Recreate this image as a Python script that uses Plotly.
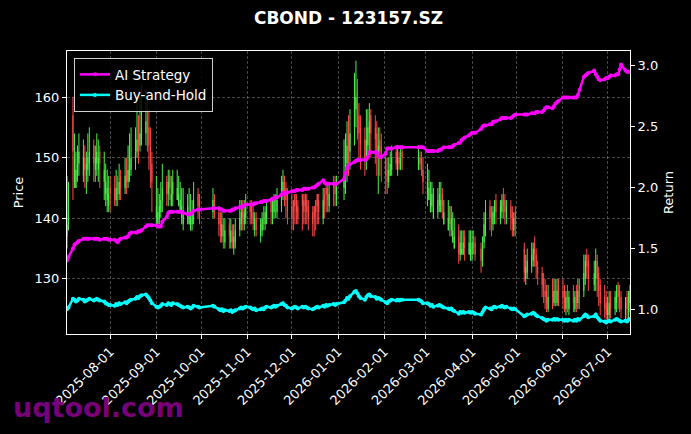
import pandas as pd
import plotly.graph_objects as go

# ---- trading calendar (China exchange holidays removed) ----
holidays = ["2025-10-01", "2025-10-02", "2025-10-03", "2025-10-06", "2025-10-07", "2025-10-08",
            "2026-01-01", "2026-01-02",
            "2026-02-16", "2026-02-17", "2026-02-18", "2026-02-19", "2026-02-20", "2026-02-23",
            "2026-04-06", "2026-05-01", "2026-05-04", "2026-05-05", "2026-06-19"]
dates = [d for d in pd.bdate_range("2025-07-03", "2026-07-16") if d.strftime("%Y-%m-%d") not in holidays]

# ---- price data ----
close = [
    139, 141, 151, 150, 148, 149, 151, 150, 148, 149, 150, 151, 149, 150, 151, 150, 149, 148, 146, 145, 144,
    144, 143, 145, 144, 146, 145, 147, 146, 148, 149, 150, 151, 153, 152, 154, 155, 156, 154, 152, 149, 146,
    142, 141, 142, 143, 145, 144, 146, 145, 144, 146, 145, 144, 143, 142, 141, 142, 141, 140, 141, 143, 142, 141,
    143, 142, 139, 138, 139, 137, 138, 137, 138, 136, 137, 138, 140, 141, 140, 141, 142,
    141, 140, 139, 140, 138, 139, 140, 139, 141, 142, 141, 142, 143, 142, 143, 145, 146, 144, 143, 141,
    140, 141, 142, 141, 140, 142, 141, 142, 141, 140, 139, 140, 141, 142, 141, 143, 142, 144, 143, 144, 145, 144, 145,
    147, 149, 152, 151, 154, 159, 160, 157, 154, 152, 150, 153, 155, 156, 154, 153, 151, 152, 151, 150,
    147, 146, 148, 149, 150, 149, 150, 149, 150, 150, 150, 149, 148, 146,
    146, 145, 143, 144, 142, 143, 144, 143, 142, 141, 140, 139, 140, 138, 137, 134, 136, 135, 136, 135, 136, 135,
    136, 135, 134, 133, 136, 139, 141, 140, 139, 141, 142, 141, 142, 143, 142, 141, 142, 140, 139, 140, 139,
    131, 132, 133, 134, 135, 134, 132, 131, 129, 128, 127, 126, 127, 127, 128, 127, 128, 127,
    127, 126, 127, 126, 127, 126, 127, 126, 128, 127, 131, 133, 132, 130, 131, 133, 130, 128, 126, 125, 124,
    125, 126, 125, 127, 128, 127, 126, 125, 126, 125, 127, 128,
]
open_ = [
    137, 139, 157, 146, 145, 147, 149, 147, 150, 147, 148, 149, 152, 148, 149, 148, 151, 146, 144, 143, 142,
    145, 145, 143, 146, 144, 147, 145, 148, 146, 147, 148, 149, 151, 154, 152, 153, 154, 157, 155, 152, 149,
    140, 139, 140, 141, 143, 146, 144, 147, 142, 144, 143, 142, 141, 140, 139, 140, 139, 138, 139, 141, 144, 143,
    141, 143, 141, 140, 137, 139, 136, 139, 136, 138, 135, 136, 138, 139, 142, 139, 140,
    142, 142, 141, 138, 140, 137, 138, 141, 139, 140, 143, 140, 141, 144, 141, 142, 144, 147, 145, 144,
    142, 143, 144, 143, 142, 144, 143, 144, 143, 142, 141, 142, 143, 144, 143, 140, 144, 145, 145, 142, 146, 146, 143,
    145, 147, 149, 154, 151, 155, 158, 161, 157, 155, 153, 150, 152, 154, 157, 155, 154, 150, 153, 152,
    150, 148, 146, 147, 148, 151, 148, 150, 148, 151, 148, 150, 150, 148,
    144, 143, 141, 142, 140, 141, 142, 141, 144, 139, 138, 142, 138, 136, 135, 137, 134, 134, 134, 137, 134, 133,
    134, 137, 136, 135, 133, 136, 139, 142, 141, 139, 140, 143, 140, 141, 144, 143, 140, 142, 141, 138, 141,
    135, 130, 131, 132, 133, 136, 134, 132, 131, 130, 128, 128, 125, 128, 126, 129, 126, 129,
    128, 128, 125, 128, 125, 128, 125, 128, 126, 129, 128, 130, 134, 133, 129, 130, 133, 131, 129, 127, 126,
    124, 124, 127, 125, 126, 129, 128, 127, 124, 127, 124, 126,
]
high = [
    147, 146, 160, 154, 151, 152, 154, 153, 152, 151, 154, 155, 153, 152, 154, 153, 152, 151, 149, 148, 147,
    147, 147, 148, 147, 149, 148, 150, 150, 152, 154, 155, 155, 159, 157, 161, 162, 161, 160, 158, 155, 151,
    147, 145, 144, 146, 149, 147, 148, 148, 147, 148, 148, 147, 146, 145, 145, 144, 145, 144, 143, 146, 145, 144,
    145, 144, 142, 141, 141, 140, 140, 140, 140, 139, 139, 140, 143, 143, 143, 143, 144,
    143, 143, 142, 141, 141, 140, 141, 142, 142, 143, 143, 143, 144, 144, 145, 147, 148, 147, 146, 145,
    144, 143, 144, 144, 143, 144, 144, 144, 144, 143, 142, 142, 143, 144, 144, 145, 145, 146, 146, 146, 147, 147, 147,
    153, 154, 156, 157, 158, 164, 166, 163, 159, 157, 155, 158, 158, 159, 158, 157, 156, 155, 155, 154,
    151, 150, 150, 151, 152, 152, 152, 151, 152, 152, 152, 151, 151, 150,
    149, 148, 146, 146, 145, 145, 146, 146, 145, 143, 143, 142, 142, 141, 140, 139, 138, 138, 138, 138, 138, 138,
    138, 138, 137, 136, 137, 141, 143, 143, 142, 142, 143, 144, 143, 144, 145, 144, 143, 143, 142, 141, 142,
    136, 134, 135, 136, 136, 137, 135, 133, 132, 131, 130, 129, 129, 130, 130, 130, 130, 130,
    130, 129, 128, 129, 128, 129, 128, 129, 130, 130, 134, 134, 135, 134, 133, 135, 134, 132, 130, 129, 128,
    127, 128, 128, 128, 129, 129.5, 129, 128, 127, 128, 128, 129,
]
low = [
    135, 138, 143, 145, 145, 146, 147, 146, 145, 144, 146, 147, 146, 146, 147, 146, 145, 143, 142, 141, 141,
    141, 142, 142, 142, 143, 143, 144, 144, 145, 146, 147, 148, 150, 149, 151, 152, 152, 151, 148, 145, 141,
    139, 139, 139, 140, 141, 142, 142, 143, 142, 142, 143, 142, 141, 139, 138, 139, 139, 138, 138, 139, 140, 139,
    140, 140, 137, 136, 136, 135, 135, 135, 135, 135, 134, 135, 137, 138, 138, 138, 139,
    139, 139, 138, 137, 137, 136, 137, 138, 138, 139, 139, 139, 140, 140, 140, 141, 143, 142, 140, 139,
    138, 138, 139, 139, 139, 138, 139, 139, 139, 138, 137, 137, 138, 139, 139, 139, 140, 141, 141, 141, 142, 142, 142,
    143, 144, 146, 147, 148, 152, 155, 153, 150, 148, 147, 148, 150, 151, 150, 149, 147, 144, 147, 146,
    144, 144, 145, 147, 147, 148, 147, 148, 148, 148, 148, 148, 147, 144,
    142, 143, 141, 141, 140, 140, 141, 141, 140, 139, 138, 137, 137, 136, 135, 132.5, 133, 134, 134, 133, 134, 133,
    133, 134, 133, 131, 132, 135, 137, 138, 137, 138, 139, 139, 139, 140, 140, 139, 139, 138, 137, 137, 137,
    129.5, 129, 130, 131, 132, 132, 130, 129, 127, 126, 125, 124.5, 124.5, 125, 125.5, 125.5, 125.5, 125.5,
    125, 124.5, 124, 124.5, 124, 124.5, 124.5, 124.5, 125, 125, 127, 129, 130, 128, 128, 128, 127, 125.5, 124, 123.5, 123,
    123, 123, 123.5, 124, 124.5, 125, 124.5, 123.5, 123, 123.5, 123.5, 124.5,
]

# ---- cumulative return of the AI strategy ----
strategy = [
    1.40, 1.43, 1.50, 1.53, 1.54, 1.55, 1.56, 1.58, 1.58, 1.58, 1.58, 1.58, 1.58, 1.58, 1.58, 1.58, 1.57, 1.58, 1.58, 1.58, 1.57,
    1.57, 1.57, 1.56, 1.55, 1.57, 1.58, 1.59, 1.59, 1.60, 1.62, 1.63, 1.63, 1.63, 1.64, 1.64, 1.65, 1.68, 1.69, 1.69, 1.69, 1.69,
    1.69, 1.68, 1.68, 1.68, 1.72, 1.76, 1.79, 1.80, 1.80, 1.80, 1.80, 1.80, 1.80, 1.80, 1.79, 1.78, 1.78, 1.78, 1.79, 1.81, 1.82, 1.82,
    1.83, 1.83, 1.83, 1.82, 1.82, 1.81, 1.81, 1.81, 1.81, 1.82, 1.82, 1.83, 1.84, 1.84, 1.85, 1.85, 1.86,
    1.86, 1.86, 1.86, 1.87, 1.87, 1.88, 1.88, 1.89, 1.89, 1.89, 1.90, 1.91, 1.91, 1.92, 1.92, 1.94, 1.96, 1.95, 1.95, 1.96,
    1.97, 1.97, 1.97, 1.98, 1.98, 1.98, 1.99, 1.99, 1.99, 1.99, 2.00, 2.00, 2.01, 2.02, 2.03, 2.06, 2.04, 2.03, 2.03, 2.03, 2.03, 2.03, 2.03,
    2.07, 2.12, 2.16, 2.18, 2.19, 2.21, 2.22, 2.225, 2.225, 2.225, 2.225, 2.23, 2.25, 2.29, 2.29, 2.29, 2.29, 2.26, 2.25, 2.25,
    2.28, 2.32, 2.32, 2.32, 2.32, 2.33, 2.33, 2.33, 2.33, 2.33, 2.33, 2.33, 2.33, 2.33,
    2.30, 2.30, 2.30, 2.30, 2.30, 2.30, 2.31, 2.31, 2.32, 2.33, 2.33, 2.33, 2.33, 2.34, 2.35, 2.365, 2.37, 2.39, 2.40, 2.41, 2.43, 2.44,
    2.45, 2.45, 2.45, 2.48, 2.50, 2.51, 2.51, 2.52, 2.52, 2.54, 2.54, 2.545, 2.56, 2.57, 2.57, 2.57, 2.57, 2.57, 2.58, 2.59, 2.60,
    2.60, 2.60, 2.60, 2.61, 2.61, 2.61, 2.62, 2.62, 2.62, 2.63, 2.65, 2.66, 2.66, 2.65, 2.67, 2.69, 2.70, 2.71,
    2.74, 2.74, 2.74, 2.74, 2.74, 2.74, 2.74, 2.74, 2.76, 2.80, 2.91, 2.92, 2.93, 2.94, 2.96, 2.93, 2.91, 2.89, 2.88, 2.89, 2.90,
    2.90, 2.91, 2.92, 2.92, 2.93, 2.93, 2.97, 3.01, 2.96, 2.95, 2.95, 2.95,
]
# buy-and-hold return = close relative to first close
buy_hold = [c / close[0] for c in close]

price_ticks = [130, 140, 150, 160]
return_ticks = [1.0, 1.5, 2.0, 2.5, 3.0]

GREEN = "#4cf04c"
RED = "#ff4848"
FONT = "DejaVu Sans"
GRID = "rgba(255,255,255,0.28)"

fig = go.Figure()
fig.add_trace(go.Candlestick(
    x=dates, open=open_, high=high, low=low, close=close,
    increasing=dict(line=dict(color=GREEN, width=1), fillcolor=GREEN),
    decreasing=dict(line=dict(color=RED, width=1), fillcolor=RED),
    whiskerwidth=0, showlegend=False, hoverinfo="skip", yaxis="y"))
fig.add_trace(go.Scatter(
    x=dates, y=strategy, name="AI Strategy", mode="lines+markers",
    line=dict(color="#ff00ff", width=2.5), marker=dict(size=4, color="#ff00ff"), yaxis="y2"))
fig.add_trace(go.Scatter(
    x=dates, y=buy_hold, name="Buy-and-Hold", mode="lines+markers",
    line=dict(color="#00ffff", width=2.5), marker=dict(size=4, color="#00ffff"), yaxis="y2"))

fig.update_layout(
    width=691, height=434,
    margin=dict(l=67, r=61, t=51, b=100),
    paper_bgcolor="black", plot_bgcolor="black",
    font=dict(family=FONT, color="white", size=13),
    boxgap=0.85,
    title=dict(text="<b>CBOND - 123157.SZ</b>", x=(348.5 / 691), xanchor="center",
               y=1 - 18 / 434, yanchor="middle", font=dict(size=17, color="white", family=FONT)),
    xaxis=dict(type="date", range=[dates[0], dates[-1]], rangeslider=dict(visible=False),
               tickformat="%Y-%m-%d", dtick="M1", tick0="2025-08-01", tickangle=-45,
               showgrid=True, gridcolor=GRID, griddash="3px,2px", gridwidth=1,
               showline=True, linecolor="white", linewidth=1, mirror=True,
               ticks="outside", tickcolor="white", ticklen=4, tickfont=dict(size=13, color="white"),
               zeroline=False),
    yaxis=dict(range=[120.9, 167.6], tickvals=price_ticks, side="left",
               showgrid=True, gridcolor=GRID, griddash="3px,2px", gridwidth=1,
               showline=True, linecolor="white", linewidth=1, mirror=True,
               ticks="outside", tickcolor="white", ticklen=4, tickfont=dict(size=13, color="white"),
               title=dict(text="Price", font=dict(size=13, color="white"), standoff=8), zeroline=False),
    yaxis2=dict(range=[0.797, 3.121], tickvals=return_ticks, tickformat=".1f", side="right",
                overlaying="y", showgrid=False, showline=True, linecolor="white", linewidth=1,
                ticks="outside", tickcolor="white", ticklen=4, tickfont=dict(size=13, color="white"),
                title=dict(text="Return", font=dict(size=13, color="white"), standoff=6), zeroline=False),
    legend=dict(x=0.0124, y=0.975, xanchor="left", yanchor="top", bgcolor="rgba(0,0,0,0.85)",
                bordercolor="#d0d0d0", borderwidth=1, font=dict(size=13.5, color="white", family=FONT),
                tracegroupgap=0),
    annotations=[dict(text="<b>uqtool.com</b>", xref="paper", yref="paper",
                      x=(11 - 67) / 563, y=(334 - 407) / 283, xanchor="left", yanchor="middle",
                      showarrow=False, font=dict(size=27, color="rgba(128,0,128,0.95)", family=FONT))],
    showlegend=True,
)

fig.write_html("out.html")
